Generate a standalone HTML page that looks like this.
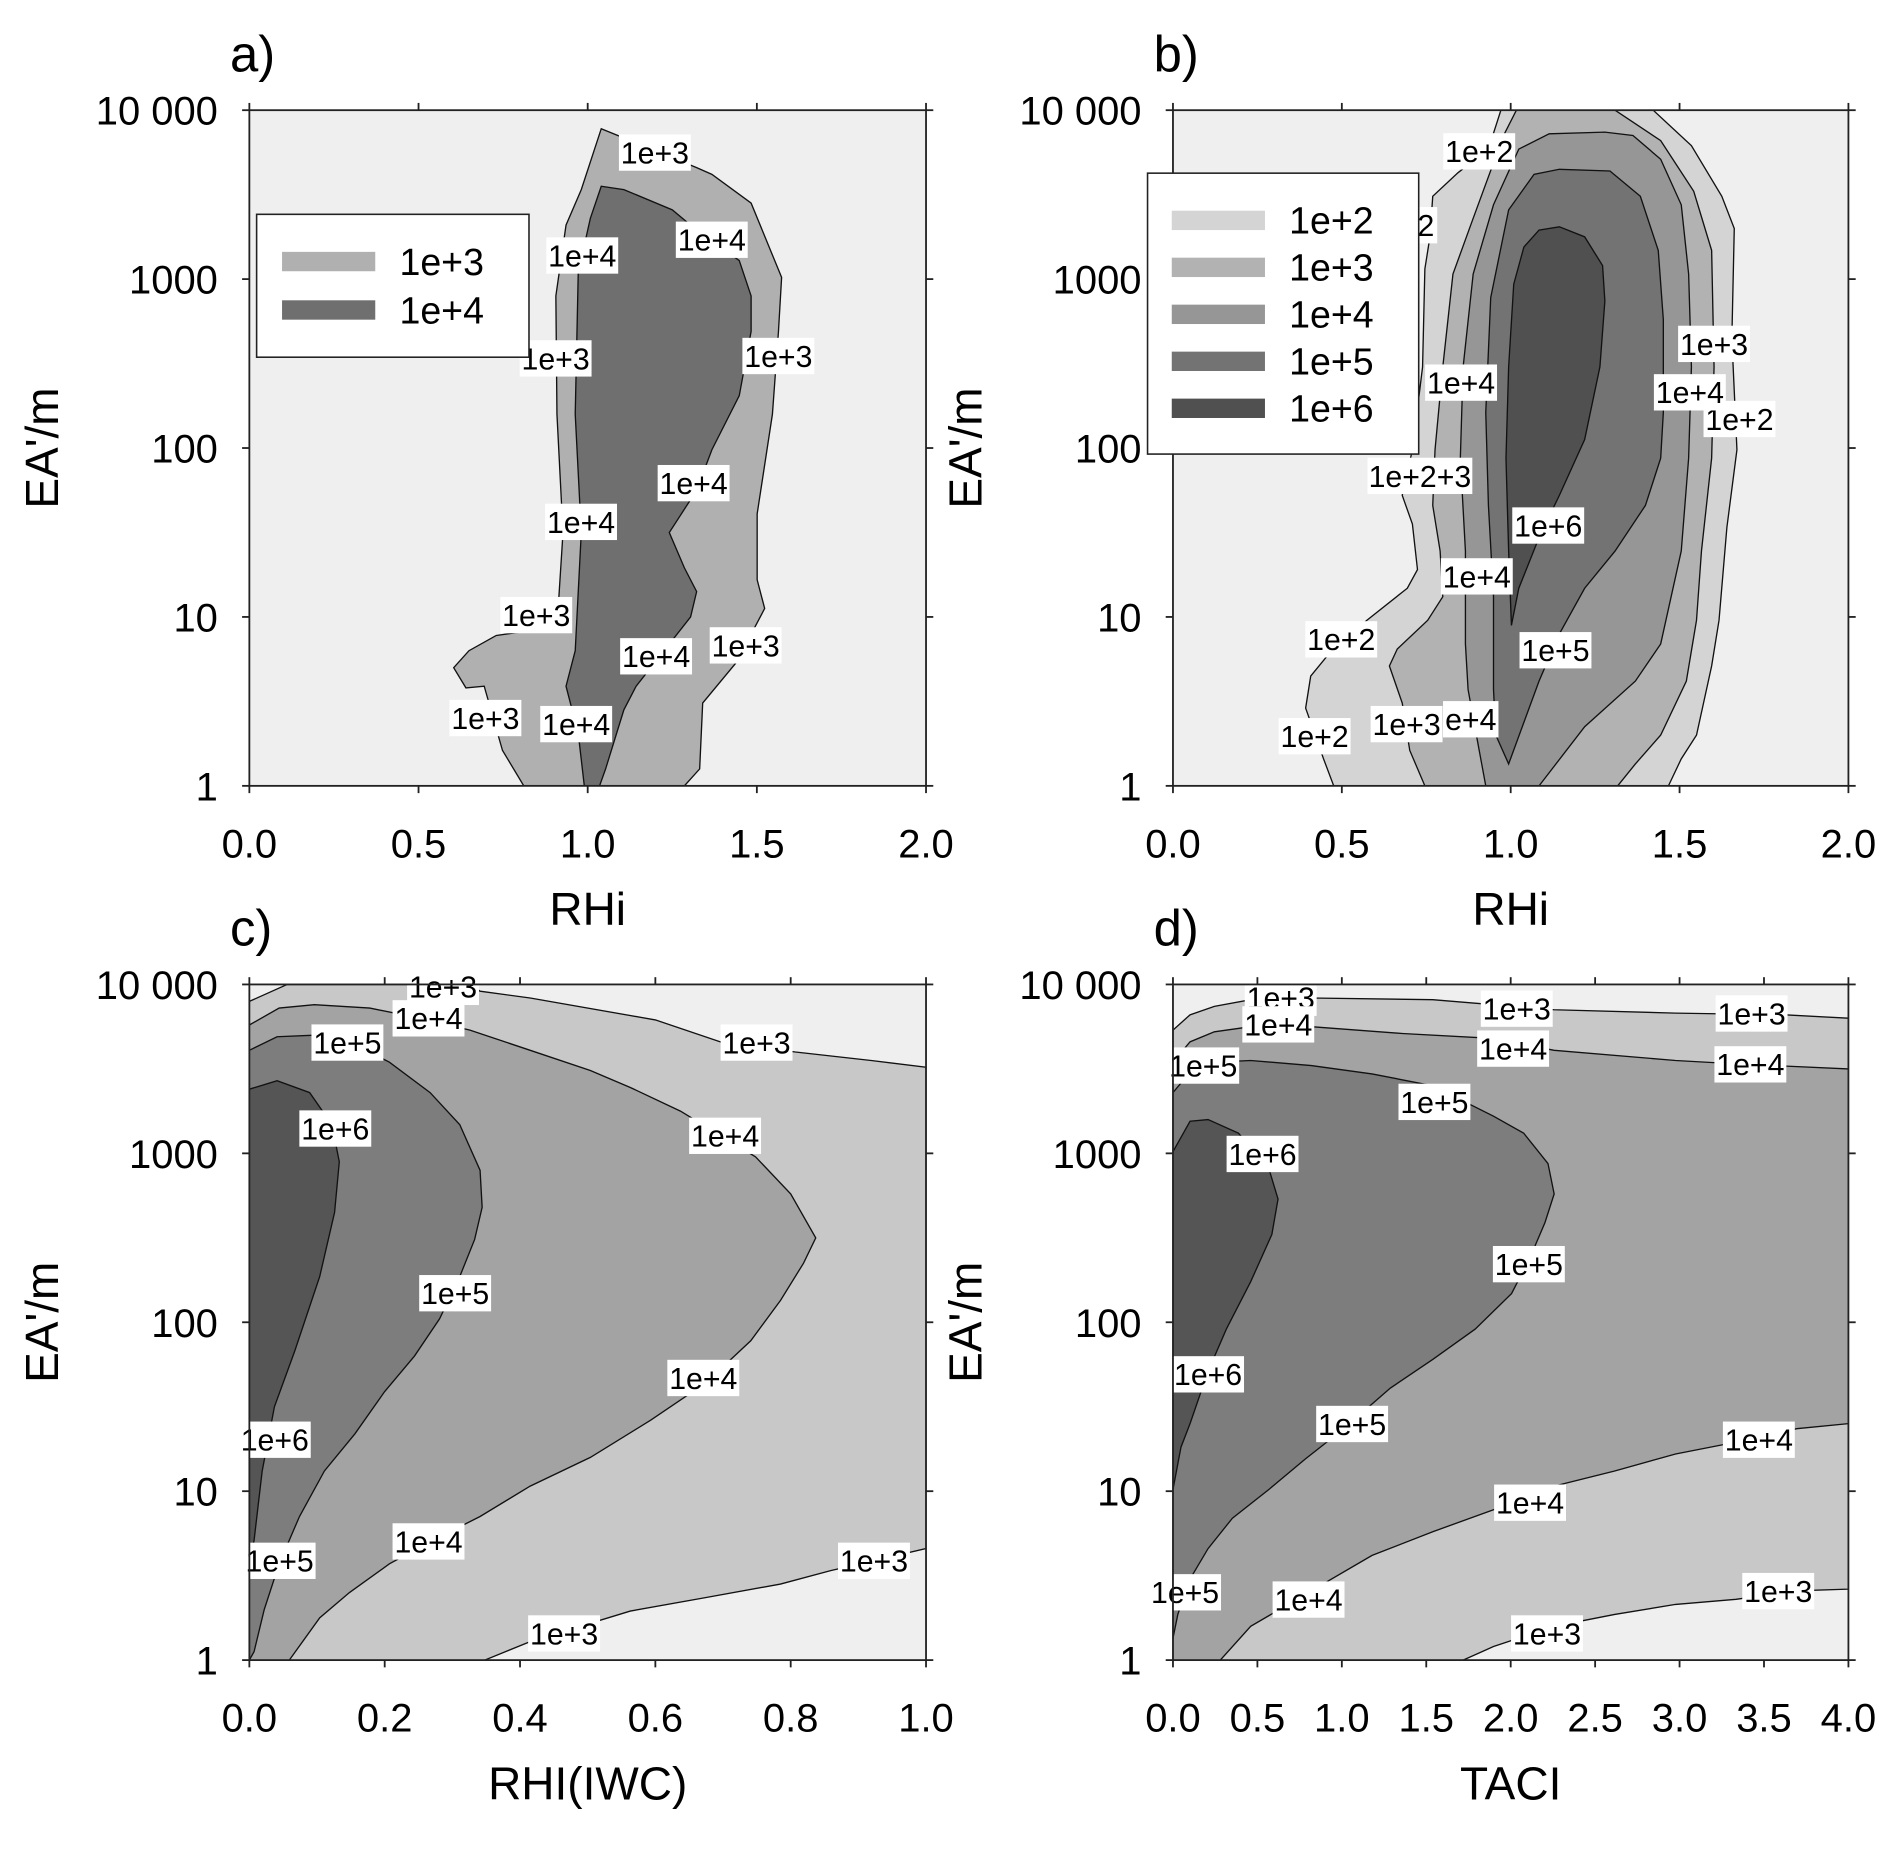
<!DOCTYPE html>
<html><head><meta charset="utf-8"><style>
html,body{margin:0;padding:0;background:#fff;}
svg{display:block;font-family:"Liberation Sans",Arial,sans-serif;}
</style></head><body>
<svg id="fig" width="1892" height="1849" viewBox="0 0 1563 1527" preserveAspectRatio="none" xmlns="http://www.w3.org/2000/svg">
<rect x="0" y="0" width="1563" height="1527" fill="#fff"/>
</svg>
<script>
// ---------- DATA (x value, log10(EA'/m)) ----------
const aLevels = ["1e+3","1e+4"];
const aL3 = [[1.040,3.89],[1.322,3.66],[1.367,3.62],[1.483,3.45],[1.573,3.01],[1.564,2.69],[1.546,2.20],[1.501,1.61],[1.501,1.22],[1.523,1.05],[1.439,0.73],[1.340,0.49],[1.331,0.10],[1.286,0],[0.811,0],[0.748,0.21],[0.694,0.59],[0.640,0.58],[0.604,0.70],[0.649,0.80],[0.730,0.89],[0.909,0.94],[0.927,1.50],[0.909,2.20],[0.906,2.90],[0.936,3.32],[0.981,3.53]];
const aL4 = [[1.040,3.55],[1.107,3.53],[1.250,3.41],[1.304,3.32],[1.448,3.11],[1.483,2.90],[1.483,2.69],[1.448,2.31],[1.367,1.99],[1.322,1.75],[1.241,1.50],[1.286,1.29],[1.322,1.15],[1.304,1.00],[1.214,0.77],[1.143,0.59],[1.107,0.45],[1.053,0.10],[1.035,0],[0.990,0],[0.972,0.31],[0.936,0.59],[0.963,0.80],[0.981,1.50],[0.963,2.20],[0.972,3.04],[1.008,3.36]];

const bLevels = ["1e+2","1e+3","1e+4","1e+5","1e+6"];
const bL2 = [[0.476,0],[0.446,0.16],[0.393,0.46],[0.408,0.65],[0.453,0.76],[0.574,0.98],[0.694,1.17],[0.724,1.28],[0.709,1.55],[0.679,1.72],[0.709,1.99],[0.739,2.48],[0.746,3.06],[0.761,3.25],[0.769,3.49],[0.844,3.63],[0.934,3.77],[0.971,4],[1.422,4],[1.535,3.79],[1.625,3.49],[1.662,3.30],[1.655,2.65],[1.670,1.99],[1.640,1.53],[1.617,0.98],[1.595,0.71],[1.550,0.30],[1.505,0.16],[1.467,0]];
const bL3 = [[0.746,0],[0.701,0.21],[0.679,0.49],[0.641,0.71],[0.664,0.81],[0.754,0.98],[0.799,1.12],[0.791,1.39],[0.769,1.66],[0.776,1.99],[0.799,2.48],[0.829,3.03],[0.889,3.36],[0.979,3.85],[1.017,4],[1.309,4],[1.444,3.82],[1.542,3.52],[1.595,3.17],[1.602,2.48],[1.595,1.94],[1.565,1.39],[1.550,0.98],[1.520,0.62],[1.444,0.30],[1.369,0.13],[1.317,0]];
const bL4 = [[0.926,0],[0.904,0.24],[0.874,0.57],[0.866,0.84],[0.866,1.39],[0.851,1.94],[0.859,2.48],[0.889,3.03],[0.949,3.44],[1.024,3.77],[1.114,3.86],[1.279,3.87],[1.362,3.85],[1.444,3.71],[1.505,3.44],[1.527,3.03],[1.535,2.48],[1.527,1.94],[1.505,1.39],[1.444,0.84],[1.369,0.62],[1.219,0.35],[1.084,0]];
const bL5 = [[0.994,0.13],[0.956,0.30],[0.949,0.57],[0.949,1.12],[0.934,1.66],[0.926,2.21],[0.941,2.89],[0.994,3.41],[1.069,3.62],[1.144,3.65],[1.294,3.64],[1.384,3.49],[1.437,3.17],[1.452,2.76],[1.452,2.21],[1.444,1.94],[1.399,1.66],[1.309,1.39],[1.219,1.17],[1.144,0.90],[1.084,0.62]];
const bL6 = [[1.002,0.95],[0.994,1.39],[0.986,1.94],[0.994,2.48],[1.009,2.97],[1.039,3.19],[1.084,3.29],[1.144,3.31],[1.219,3.25],[1.272,3.08],[1.279,2.87],[1.264,2.48],[1.219,2.05],[1.144,1.72],[1.084,1.47],[1.024,1.17]];

const cL3 = [[0,3.90],[0.056,4],[0.326,4],[0.341,3.96],[0.415,3.92],[0.600,3.79],[0.696,3.66],[0.807,3.60],[0.919,3.55],[1.0,3.51],[1.0,0.66],[0.859,0.53],[0.785,0.45],[0.674,0.37],[0.563,0.29],[0.415,0.11],[0.348,0],[0,0]];
const cL4 = [[0,3.76],[0.044,3.86],[0.096,3.88],[0.178,3.86],[0.252,3.80],[0.326,3.73],[0.415,3.61],[0.504,3.49],[0.563,3.39],[0.637,3.25],[0.748,2.98],[0.800,2.76],[0.837,2.50],[0.819,2.35],[0.785,2.13],[0.741,1.89],[0.674,1.64],[0.593,1.42],[0.504,1.20],[0.415,1.03],[0.341,0.85],[0.267,0.70],[0.207,0.57],[0.148,0.40],[0.104,0.25],[0.059,0],[0,0]];
const cL5 = [[0,3.61],[0.041,3.69],[0.096,3.70],[0.148,3.66],[0.207,3.54],[0.267,3.36],[0.311,3.17],[0.341,2.90],[0.344,2.68],[0.333,2.49],[0.311,2.27],[0.281,2.02],[0.244,1.80],[0.200,1.59],[0.156,1.34],[0.111,1.12],[0.074,0.85],[0.044,0.57],[0.022,0.30],[0.007,0.05],[0,0]];
const cL6 = [[0,3.38],[0.041,3.43],[0.089,3.36],[0.122,3.17],[0.133,2.95],[0.126,2.65],[0.104,2.27],[0.067,1.83],[0.037,1.50],[0.019,1.12],[0.007,0.71],[0,0.57]];

const dL3 = [[0,3.73],[0.101,3.82],[0.245,3.87],[0.460,3.91],[0.819,3.92],[1.538,3.91],[2.257,3.85],[2.976,3.83],[3.623,3.82],[4.0,3.80],[4.0,0.42],[3.694,0.41],[3.335,0.36],[2.976,0.33],[2.616,0.27],[2.257,0.20],[1.898,0.08],[1.718,0],[0,0]];
const dL4 = [[0,3.54],[0.101,3.66],[0.245,3.72],[0.460,3.75],[0.819,3.75],[1.358,3.71],[1.898,3.68],[2.257,3.61],[2.976,3.55],[3.335,3.53],[4.0,3.50],[4.0,1.40],[3.694,1.37],[3.335,1.29],[2.976,1.22],[2.616,1.12],[2.257,1.03],[1.898,0.89],[1.538,0.76],[1.179,0.62],[0.819,0.41],[0.460,0.20],[0.280,0],[0,0]];
const dL5 = [[0,3.36],[0.101,3.48],[0.245,3.54],[0.460,3.55],[0.819,3.52],[1.179,3.47],[1.538,3.40],[1.898,3.22],[2.077,3.12],[2.221,2.94],[2.257,2.76],[2.203,2.59],[2.113,2.38],[2.005,2.17],[1.790,1.96],[1.538,1.78],[1.287,1.61],[0.999,1.36],[0.783,1.19],[0.568,1.01],[0.352,0.84],[0.208,0.66],[0.101,0.48],[0.029,0.27],[0,0.13]];
const dL6 = [[0,3.01],[0.101,3.19],[0.208,3.20],[0.388,3.12],[0.568,2.91],[0.622,2.73],[0.586,2.52],[0.460,2.24],[0.316,1.96],[0.208,1.71],[0.101,1.40],[0.047,1.26],[0,1.01]];

const yTickLabels = ["1","10","100","1000","10 000"];
const abXTicks = ["0.0","0.5","1.0","1.5","2.0"];
const cXTicks = ["0.0","0.2","0.4","0.6","0.8","1.0"];
const dXTicks = ["0.0","0.5","1.0","1.5","2.0","2.5","3.0","3.5","4.0"];

// contour labels [text, x, y] in figure coords
const aLabels = [["1e+3",541,126],["1e+4",481,211],["1e+4",588,198],["1e+3",459,296],["1e+3",643,294],["1e+4",573,399],["1e+4",480,431],["1e+3",443,508],["1e+4",542,542],["1e+3",616,533],["1e+3",401,593],["1e+4",476,598]];
const bLabels = [["1e+2",1222,125],["2",1178,186],["1e+4",1207,316],["1e+3",1416,284],["1e+2",1437,346],["1e+4",1396,324],["1e+2+3",1173,393],["1e+6",1279,434],["1e+4",1220,476],["1e+2",1108,528],["1e+5",1285,537],["1e+2",1086,608],["1e+3",1162,598],["e+4",1215,594]];
const cLabels = [["1e+3",366,815],["1e+4",354,841],["1e+3",625,861],["1e+5",287,861],["1e+6",277,932],["1e+4",599,938],["1e+5",376,1068],["1e+4",581,1138],["1e+6",227,1189],["1e+4",354,1273],["1e+5",231,1289],["1e+3",722,1289],["1e+3",466,1349]];
const dLabels = [["1e+3",1058,824],["1e+4",1056,846],["1e+3",1253,833],["1e+3",1447,837],["1e+5",994,880],["1e+4",1250,866],["1e+4",1446,879],["1e+5",1185,910],["1e+6",1043,953],["1e+5",1263,1044],["1e+6",998,1135],["1e+5",1117,1176],["1e+4",1453,1189],["1e+4",1264,1241],["1e+5",979,1315],["1e+4",1081,1321],["1e+3",1469,1314],["1e+3",1278,1349]];

// ---------- RENDER ----------
const NS = "http://www.w3.org/2000/svg";
const svg = document.getElementById('fig');
function el(tag, attrs, parent){
  const e = document.createElementNS(NS, tag);
  for (const k in attrs) e.setAttribute(k, attrs[k]);
  (parent||svg).appendChild(e);
  return e;
}
function txt(s, attrs, parent){ const t = el('text', attrs, parent); t.textContent = s; return t; }

function panel(id, box, xmin, xmax, xticks, regions, labels, letter, xtitle){
  const g = el('g', {});
  
  
  const [px0, py0, px1, py1] = box;
  const sx = v => px0 + (v - xmin) / (xmax - xmin) * (px1 - px0);
  const sy = l => py1 - l / 4 * (py1 - py0);
  const cp = el('clipPath', {id: 'clip-' + id}, g);
  el('rect', {x: px0, y: py0, width: px1 - px0, height: py1 - py0}, cp);
  const bg = el('rect', {x: px0, y: py0, width: px1 - px0, height: py1 - py0, fill: '#efefef'}, g);
  
  
  const rg = el('g', {'clip-path': 'url(#clip-' + id + ')'}, g);
  regions.forEach(r => {
    const pts = r.pts.map(p => sx(p[0]).toFixed(1) + ',' + sy(p[1]).toFixed(1)).join(' ');
    const poly = el('polygon', {points: pts, fill: r.fill, stroke: '#111', 'stroke-width': 1.1}, rg);
    
    
  });
  labels.forEach(L => {
    const w = L[0].length * 13.6 + 5;
    el('rect', {x: L[1] - w / 2, y: L[2] - 15, width: w, height: 30, fill: '#fff'}, g);
    const t = txt(L[0], {x: L[1], y: L[2] + 9, 'font-size': 25, 'text-anchor': 'middle', fill: '#000'}, g);
    
    
  });
  const fr = el('rect', {x: px0, y: py0, width: px1 - px0, height: py1 - py0, fill: 'none', stroke: '#222', 'stroke-width': 1.5}, g);
  
  
  xticks.forEach(s => {
    const x = sx(parseFloat(s));
    el('line', {x1: x, y1: py1, x2: x, y2: py1 + 6, stroke: '#222', 'stroke-width': 1.5}, g);
    el('line', {x1: x, y1: py0, x2: x, y2: py0 - 6, stroke: '#222', 'stroke-width': 1.5}, g);
    const t = txt(s, {x: x, y: py1 + 59, 'font-size': 33, 'text-anchor': 'middle', fill: '#000'}, g);
    
    
  });
  yTickLabels.forEach((s, i) => {
    const y = sy(i);
    el('line', {x1: px0 - 6, y1: y, x2: px0, y2: y, stroke: '#222', 'stroke-width': 1.5}, g);
    el('line', {x1: px1, y1: y, x2: px1 + 6, y2: y, stroke: '#222', 'stroke-width': 1.5}, g);
    const t = txt(s, {x: px0 - 26, y: y + 12, 'font-size': 33, 'text-anchor': 'end', fill: '#000'}, g);
    
    
  });
  const yt = txt("EA'/m", {x: 0, y: 0, 'font-size': 38, 'text-anchor': 'middle', fill: '#000', transform: 'translate(' + (px0 - 158) + ',' + ((py0 + py1) / 2) + ') rotate(-90)'}, g);
  
  
  const xt = txt(xtitle, {x: (px0 + px1) / 2, y: py1 + 115, 'font-size': 38, 'text-anchor': 'middle', fill: '#000'}, g);
  
  
  const lt = txt(letter, {x: px0 - 16, y: py0 - 32, 'font-size': 42, fill: '#000'}, g);
  
  
  return g;
}

function legend(box, entries, sw){
  const g = el('g', {});
  
  
  el('rect', {x: box[0], y: box[1], width: box[2] - box[0], height: box[3] - box[1], fill: '#fff', stroke: '#222', 'stroke-width': 1.3}, g);
  entries.forEach((e, i) => {
    const y = sw.y0 + i * sw.dy;
    el('rect', {x: sw.x, y: y - 8, width: 77, height: 16, fill: e[1]}, g);
    const t = txt(e[0], {x: sw.x + 97, y: y + 11, 'font-size': 31, fill: '#000'}, g);
    
    
  });
}

panel('a', [206, 91, 765, 649], 0, 2, abXTicks,
  [{name: aLevels[0], pts: aL3, fill: '#b0b0b0'}, {name: aLevels[1], pts: aL4, fill: '#6f6f6f'}],
  aLabels, 'a)', 'RHi');
legend([212, 177, 437, 295], [[aLevels[0], '#b0b0b0'], [aLevels[1], '#6f6f6f']], {x: 233, y0: 216, dy: 40});

panel('b', [969, 91, 1527, 649], 0, 2, abXTicks,
  [{name: bLevels[0], pts: bL2, fill: '#d4d4d4'}, {name: bLevels[1], pts: bL3, fill: '#b2b2b2'},
   {name: bLevels[2], pts: bL4, fill: '#969696'}, {name: bLevels[3], pts: bL5, fill: '#737373'},
   {name: bLevels[4], pts: bL6, fill: '#505050'}],
  bLabels, 'b)', 'RHi');
legend([948, 143, 1172, 375], bLevels.map((l, i) => [l, ['#d4d4d4', '#b2b2b2', '#969696', '#737373', '#505050'][i]]), {x: 968, y0: 182, dy: 38.8});

panel('c', [206, 813, 765, 1371], 0, 1, cXTicks,
  [{name: '1e+3', pts: cL3, fill: '#c8c8c8'}, {name: '1e+4', pts: cL4, fill: '#a3a3a3'},
   {name: '1e+5', pts: cL5, fill: '#7d7d7d'}, {name: '1e+6', pts: cL6, fill: '#555555'}],
  cLabels, 'c)', 'RHI(IWC)');

panel('d', [969, 813, 1527, 1371], 0, 4, dXTicks,
  [{name: '1e+3', pts: dL3, fill: '#c8c8c8'}, {name: '1e+4', pts: dL4, fill: '#a3a3a3'},
   {name: '1e+5', pts: dL5, fill: '#7d7d7d'}, {name: '1e+6', pts: dL6, fill: '#555555'}],
  dLabels, 'd)', 'TACI');
</script>
</body></html>
